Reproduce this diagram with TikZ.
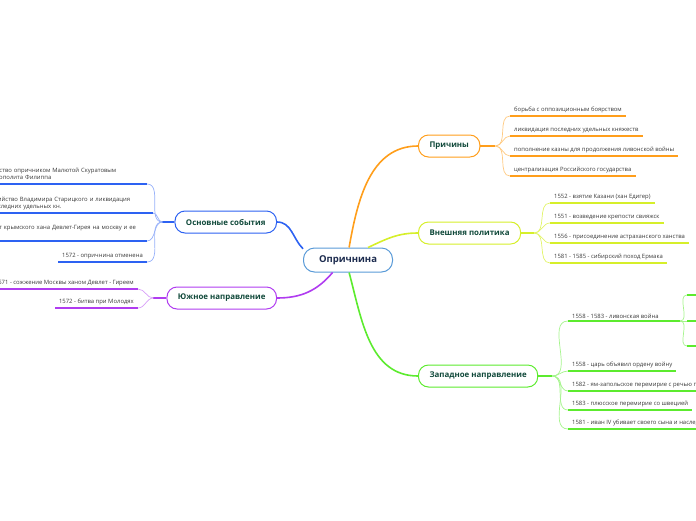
\documentclass[tikz,border=0pt]{standalone}
\usepackage{fontspec}
\setmainfont{Open Sans}
\usetikzlibrary{calc,positioning}
\definecolor{orng}{HTML}{FF9E1B}
\definecolor{ylw}{HTML}{D6EF2A}
\definecolor{grn}{HTML}{5CEB2E}
\definecolor{blu}{HTML}{2D62F2}
\definecolor{prp}{HTML}{B03CF0}
\definecolor{hubline}{HTML}{5A9BD8}
\definecolor{hubtext}{HTML}{1C2B4E}
\definecolor{topictext}{HTML}{10493A}
\definecolor{leaftext}{HTML}{3A3A3A}
\tikzset{hub/.style={draw=hubline, line width=1pt, rounded corners=11pt, fill=white,
    text=hubtext, font=\bfseries\fontsize{9.5}{11}\selectfont, minimum height=24pt, minimum width=89pt},
  topic/.style={draw, line width=1pt, rounded corners=10pt, fill=white, text=topictext,
    font=\bfseries\fontsize{7.9}{9}\selectfont, minimum height=22pt, inner xsep=11pt},
  leaf/.style={text=leaftext, font=\fontsize{5.9}{7.6}\selectfont, inner xsep=4pt, inner ysep=2.6pt, align=left},
  wide/.style={leaf, text width=158pt},
  limb/.style={line width=1.6pt},
  twig/.style={line width=0.7pt},
  ul/.style={line width=1.5pt}}

\begin{document}
\begin{tikzpicture}[x=1pt,y=1pt]
  \useasboundingbox (0,0) rectangle (696,-520);
  \node[hub] (hub) at (348,-260) {Опричнина};
  % topics
  \node[topic, draw=orng, anchor=west] (why) at (418,-146) {Причины};
  \node[topic, draw=ylw, anchor=west] (ext) at (418,-233) {Внешняя политика};
  \node[topic, draw=grn, anchor=west] (wst) at (418,-376) {Западное направление};
  \node[topic, draw=blu, anchor=east] (evt) at (277,-222) {Основные события};
  \node[topic, draw=prp, anchor=east] (sth) at (277,-298) {Южное направление};
  \draw[limb, orng] (hub.85) to[out=80,in=180] (why.west);
  \draw[limb, ylw] (hub.32) to[out=25,in=180] (ext.west);
  \draw[limb, grn] (hub.-85) to[out=-75,in=180] (wst.west);
  \draw[limb, blu] (hub.166) to[out=135,in=0] (evt.east);
  \draw[limb, prp] (hub.219) to[out=-130,in=0] (sth.east);
  % forks
  \coordinate (fwhy) at ($(why.east)+(15,0)$);
  \coordinate (fext) at ($(ext.east)+(13,0)$);
  \coordinate (fwst) at ($(wst.east)+(14,0)$);
  \coordinate (fevt) at ($(evt.west)+(-12,0)$);
  \coordinate (fsth) at ($(sth.west)+(-13,0)$);
  \draw[ul, orng] (why.east) -- (fwhy);
  \draw[ul, ylw] (ext.east) -- (fext);
  \draw[ul, grn] (wst.east) -- (fwst);
  \draw[ul, blu] (evt.west) -- (fevt);
  \draw[ul, prp] (sth.west) -- (fsth);
  % Причины
  \node[leaf, anchor=south west] (w1) at (510,-116) {борьба с оппозиционным боярством};
  \node[leaf, anchor=south west] (w2) at (510,-136) {ликвидация последних удельных княжеств};
  \node[leaf, anchor=south west] (w3) at (510,-156) {пополнение казны для продолжения ливонской войны};
  \node[leaf, anchor=south west] (w4) at (510,-176) {централизация Российского государства};
  \foreach \n in {w1,w2,w3,w4}{
    \draw[twig, orng!55] (fwhy) to[out=0,in=180] (\n.south west);
    \draw[ul, orng] (\n.south west) -- (\n.south east);}
  % Внешняя политика
  \node[leaf, anchor=south west] (x1) at (550,-203) {1552 - взятие Казани (хан Едигер)};
  \node[leaf, anchor=south west] (x2) at (550,-223) {1551 - возведение крепости свияжск};
  \node[leaf, anchor=south west] (x3) at (550,-243) {1556 - присоединение астраханского ханства};
  \node[leaf, anchor=south west] (x4) at (550,-263) {1581 - 1585 - сибирский поход Ермака};
  \foreach \n in {x1,x2,x3,x4}{
    \draw[twig, ylw!70] (fext) to[out=0,in=180] (\n.south west);
    \draw[ul, ylw] (\n.south west) -- (\n.south east);}
  % Западное направление
  \node[leaf, anchor=south west] (z1) at (568,-321) {1558 - 1583 - ливонская война};
  \node[leaf, anchor=south west] (z2) at (568,-371) {1558 - царь объявил ордену войну};
  \node[leaf, anchor=south west] (z3) at (568,-391) {1582 - ям-запольское перемирие с речью посполитой};
  \node[leaf, anchor=south west] (z4) at (568,-410) {1583 - плюсское перемирие со швецией};
  \node[leaf, anchor=south west] (z5) at (568,-429) {1581 - иван IV убивает своего сына и наследника};
  \coordinate (fliv) at (680,-321);
  \draw[twig, grn!55] (fwst) to[out=0,in=180] (z1.south west);
  \draw[ul, grn] (z1.south west) -- (fliv);
  \foreach \n in {z2,z3,z4,z5}{
    \draw[twig, grn!55] (fwst) to[out=0,in=180] (\n.south west);
    \draw[ul, grn] (\n.south west) -- (\n.south east);}
  \foreach \y [count=\i] in {295,321,346}{
    \coordinate (s\i) at (687,-\y);
    \coordinate (t\i) at (700,-\y);
    \draw[twig, grn!55] (fliv) to[out=0,in=180] (s\i);
    \draw[ul, grn] (s\i) -- (t\i);}
  % Основные события
  \node[wide, anchor=south east] (e1) at (147,-184) {Убийство опричником Малютой Скуратовым\\митрополита Филиппа};
  \node[wide, anchor=south east] (e2) at (153,-213) {Убийство Владимира Старицкого и ликвидация\\последних удельных кн.};
  \node[wide, anchor=south east, text depth=9pt] (e3) at (147,-241) {Налет крымского хана Девлет-Гирея на москву и ее};
  \node[leaf, anchor=south east] (e4) at (147,-262) {1572 - опричнина отменена};
  \foreach \n in {e1,e2,e3,e4}{
    \draw[twig, blu!50] (fevt) to[out=180,in=0] (\n.south east);
    \draw[ul, blu] (\n.south east) -- (\n.south west);}
  % Южное направление
  \node[leaf, anchor=south east] (j1) at (138,-289) {1571 - сожжение Москвы ханом Девлет - Гиреем};
  \node[leaf, anchor=south east] (j2) at (138,-308) {1572 - битва при Молодях};
  \foreach \n in {j1,j2}{
    \draw[twig, prp!50] (fsth) to[out=180,in=0] (\n.south east);
    \draw[ul, prp] (\n.south east) -- (\n.south west);}
\end{tikzpicture}
\end{document}
